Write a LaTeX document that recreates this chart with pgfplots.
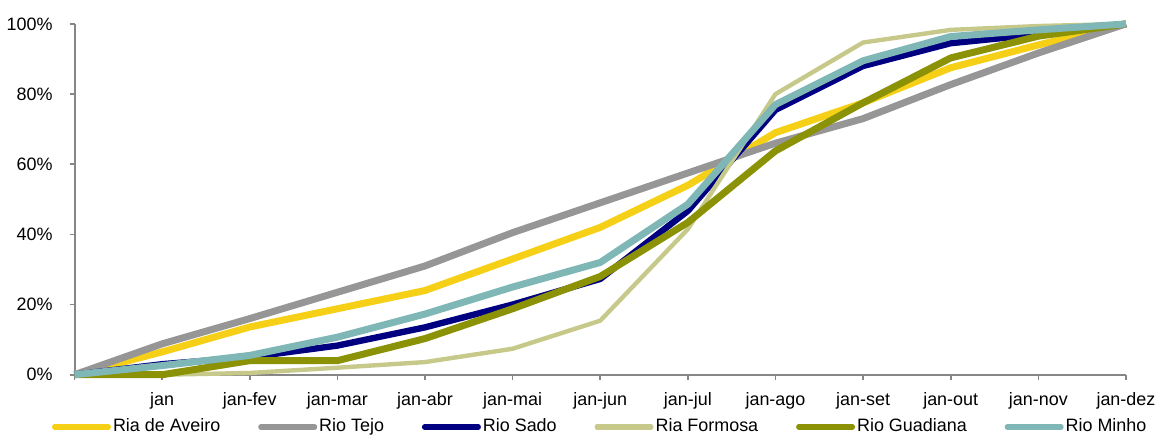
\documentclass[border=0pt]{standalone}
\usepackage{fontspec}
\setmainfont{Liberation Sans}
\usepackage{pgfplots}
\pgfplotsset{compat=1.18}
\definecolor{cAveiro}{RGB}{245,208,22}
\definecolor{cTejo}{RGB}{150,150,150}
\definecolor{cSado}{RGB}{0,0,128}
\definecolor{cFormosa}{RGB}{198,201,138}
\definecolor{cGuadiana}{RGB}{139,146,5}
\definecolor{cMinho}{RGB}{127,183,183}
\definecolor{axgray}{RGB}{134,134,134}
\begin{document}
\begin{tikzpicture}
\begin{axis}[
  scale only axis,
  width=527.5pt, height=176pt,
  xmin=0, xmax=12, ymin=0, ymax=100,
  axis x line*=bottom, axis y line*=left,
  axis line style={axgray, line width=1pt, -},
  clip=false,
  xtick={0,1,2,3,4,5,6,7,8,9,10,11,12},
  xticklabels={,jan,jan-fev,jan-mar,jan-abr,jan-mai,jan-jun,jan-jul,jan-ago,jan-set,jan-out,jan-nov,jan-dez},
  ytick={0,20,40,60,80,100},
  yticklabel={\pgfmathprintnumber{\tick}\%},
  /pgf/number format/assume math mode=true,
  tick align=outside,
  major tick length=2.5pt,
  tick style={axgray, line width=0.8pt},
  every tick label/.append style={font=\fontsize{9}{11}\selectfont, text=black},
  xticklabel style={yshift=-3pt},
  yticklabel style={xshift=-5pt},
  legend columns=6,
  legend style={at={(0.5,0)}, anchor=north, yshift=-21pt, draw=none, fill=none,
    font=\fontsize{9}{11}\selectfont, inner sep=0pt,
    nodes={inner sep=1pt}},
  /tikz/every odd column/.append style={column sep=0pt},
  /tikz/every even column/.append style={column sep=18pt},
  legend image code/.code={\draw[#1, line width=2.6pt, line cap=round] (0pt,0pt) -- (27pt,0pt);},
  every axis plot/.append style={line join=round, mark=none},
]
\addplot[cAveiro, line width=3.5pt] coordinates {(0,0) (1,6.5) (2,13.6) (3,18.8) (4,24) (5,33) (6,42) (7,54) (8,69) (9,77.5) (10,87.5) (11,94) (12,100)};
\addlegendentry{Ria de Aveiro}
\addplot[cTejo, line width=3.5pt] coordinates {(0,0) (1,8.8) (2,16) (3,23.5) (4,31) (5,40.5) (6,49) (7,57.5) (8,66) (9,73) (10,82.7) (11,91.7) (12,100)};
\addlegendentry{Rio Tejo}
\addplot[cSado, line width=3.2pt] coordinates {(0,0) (1,3) (2,5) (3,8.3) (4,13.5) (5,20) (6,27.3) (7,46.7) (8,75.5) (9,88) (10,94.5) (11,97) (12,100)};
\addlegendentry{Rio Sado}
\addplot[cFormosa, line width=2.2pt] coordinates {(0,0) (1,0) (2,0.5) (3,2) (4,3.6) (5,7.4) (6,15.4) (7,41.5) (8,80) (9,94.7) (10,98.3) (11,99.4) (12,100)};
\addlegendentry{Ria Formosa}
\addplot[cGuadiana, line width=3.5pt] coordinates {(0,0) (1,0) (2,4) (3,4) (4,10.3) (5,18.8) (6,28) (7,43.4) (8,63.8) (9,77.5) (10,90.3) (11,96.5) (12,100)};
\addlegendentry{Rio Guadiana}
\addplot[cMinho, line width=3.5pt] coordinates {(0,0) (1,2.6) (2,5.5) (3,10.7) (4,17.3) (5,25) (6,32) (7,48.6) (8,77) (9,89.5) (10,96.4) (11,98.3) (12,100)};
\addlegendentry{Rio Minho}
\end{axis}
\path ([xshift=-36.5pt,yshift=-30.5pt]current axis.south west) rectangle ([xshift=17pt,yshift=12pt]current axis.north east);
\end{tikzpicture}
\end{document}
